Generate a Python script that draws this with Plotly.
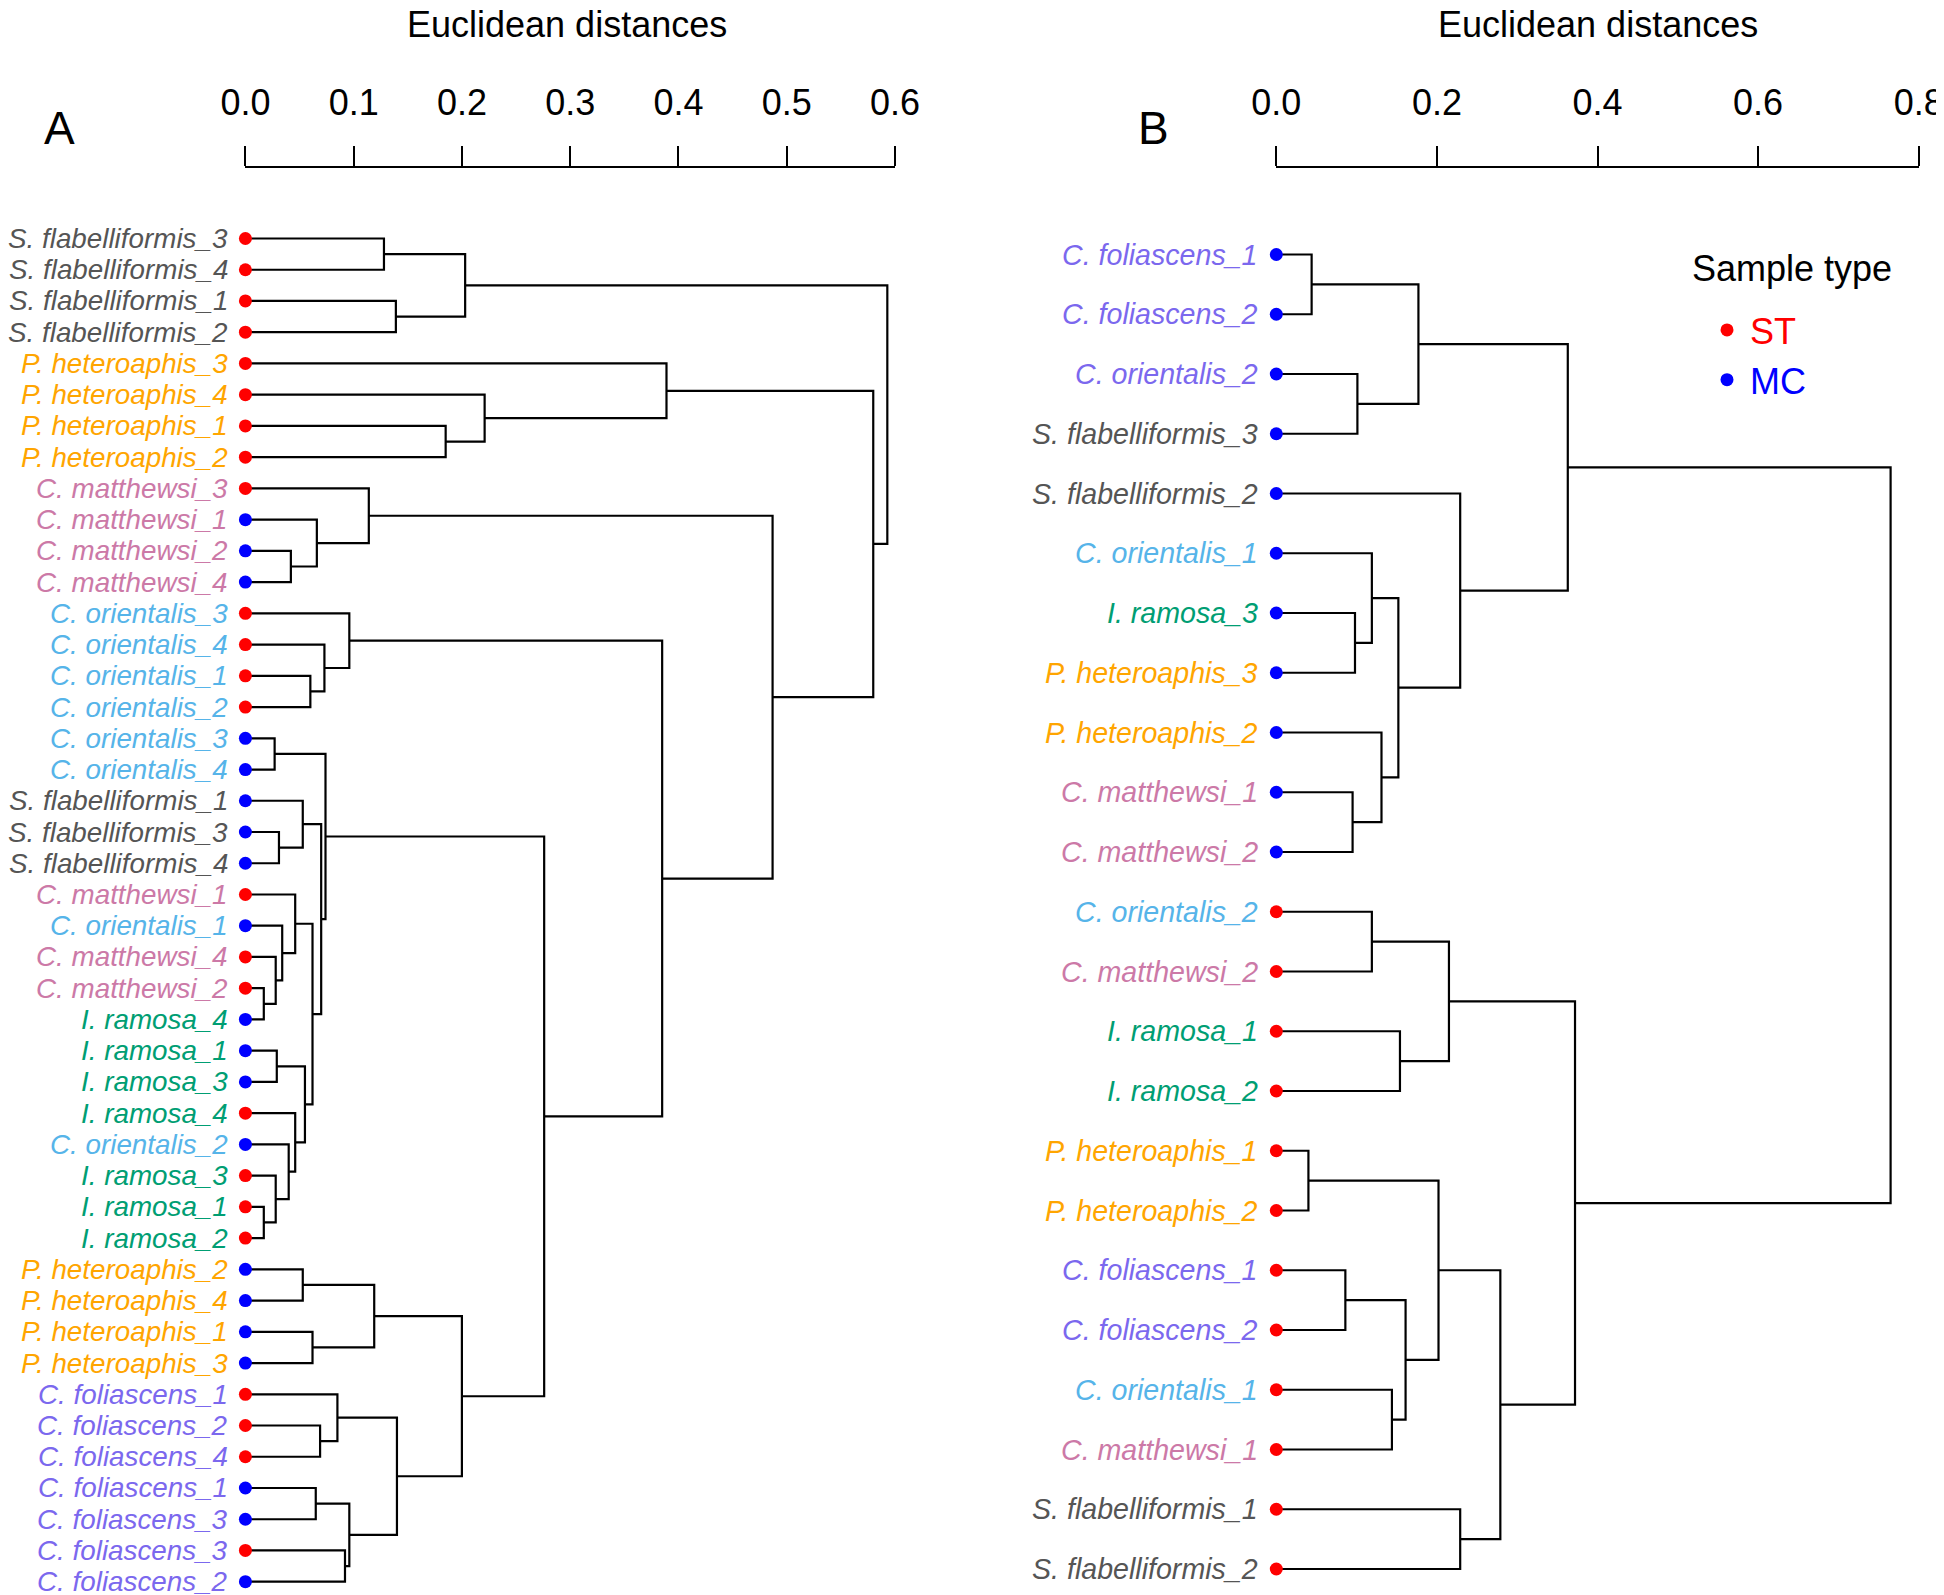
import plotly.graph_objects as go

# ======================= DATA =======================
# Panel A: leaves (top to bottom), sample types and merges (left child, right child, height)
labels_a = [
    "S. flabelliformis_3", "S. flabelliformis_4", "S. flabelliformis_1", "S. flabelliformis_2",
    "P. heteroaphis_3", "P. heteroaphis_4", "P. heteroaphis_1", "P. heteroaphis_2",
    "C. matthewsi_3", "C. matthewsi_1", "C. matthewsi_2", "C. matthewsi_4",
    "C. orientalis_3", "C. orientalis_4", "C. orientalis_1", "C. orientalis_2",
    "C. orientalis_3", "C. orientalis_4",
    "S. flabelliformis_1", "S. flabelliformis_3", "S. flabelliformis_4",
    "C. matthewsi_1", "C. orientalis_1", "C. matthewsi_4", "C. matthewsi_2", "I. ramosa_4",
    "I. ramosa_1", "I. ramosa_3", "I. ramosa_4", "C. orientalis_2",
    "I. ramosa_3", "I. ramosa_1", "I. ramosa_2",
    "P. heteroaphis_2", "P. heteroaphis_4", "P. heteroaphis_1", "P. heteroaphis_3",
    "C. foliascens_1", "C. foliascens_2", "C. foliascens_4", "C. foliascens_1",
    "C. foliascens_3", "C. foliascens_3", "C. foliascens_2",
]
types_a = [
    "ST", "ST", "ST", "ST",
    "ST", "ST", "ST", "ST",
    "ST", "MC", "MC", "MC",
    "ST", "ST", "ST", "ST",
    "MC", "MC",
    "MC", "MC", "MC",
    "ST", "MC", "ST", "ST", "MC",
    "MC", "MC", "ST", "MC",
    "ST", "ST", "ST",
    "MC", "MC", "MC", "MC",
    "ST", "ST", "ST", "MC",
    "MC", "ST", "MC",
]
# node ids: 0..43 are leaves, 44+k is the k-th merge
merges_a = [
    (0, 1, 0.128), (2, 3, 0.139), (44, 45, 0.203),
    (6, 7, 0.185), (5, 47, 0.221), (4, 48, 0.389),
    (10, 11, 0.042), (9, 50, 0.066), (8, 51, 0.114),
    (14, 15, 0.060), (13, 53, 0.073), (12, 54, 0.096),
    (16, 17, 0.027), (19, 20, 0.031), (18, 57, 0.053),
    (24, 25, 0.017), (23, 59, 0.028), (22, 60, 0.034), (21, 61, 0.046),
    (26, 27, 0.029), (31, 32, 0.017), (30, 64, 0.028), (29, 65, 0.040),
    (28, 66, 0.046), (63, 67, 0.055), (62, 68, 0.062), (58, 69, 0.070),
    (56, 70, 0.074),
    (33, 34, 0.053), (35, 36, 0.062), (72, 73, 0.119),
    (38, 39, 0.069), (37, 75, 0.085), (40, 41, 0.065), (42, 43, 0.092),
    (77, 78, 0.096), (76, 79, 0.140), (74, 80, 0.200),
    (71, 81, 0.276), (55, 82, 0.385), (52, 83, 0.487), (49, 84, 0.580),
    (46, 85, 0.593),
]
ticks_a = [0.0, 0.1, 0.2, 0.3, 0.4, 0.5, 0.6]
ticktext_a = ["0.0", "0.1", "0.2", "0.3", "0.4", "0.5", "0.6"]

# Panel B
labels_b = [
    "C. foliascens_1", "C. foliascens_2", "C. orientalis_2", "S. flabelliformis_3",
    "S. flabelliformis_2", "C. orientalis_1", "I. ramosa_3", "P. heteroaphis_3",
    "P. heteroaphis_2", "C. matthewsi_1", "C. matthewsi_2",
    "C. orientalis_2", "C. matthewsi_2", "I. ramosa_1", "I. ramosa_2",
    "P. heteroaphis_1", "P. heteroaphis_2", "C. foliascens_1", "C. foliascens_2",
    "C. orientalis_1", "C. matthewsi_1", "S. flabelliformis_1", "S. flabelliformis_2",
]
types_b = ["MC"] * 11 + ["ST"] * 12
# node ids: 0..22 are leaves, 23+k is the k-th merge
merges_b = [
    (0, 1, 0.044), (2, 3, 0.101), (23, 24, 0.177),
    (6, 7, 0.098), (5, 26, 0.119), (9, 10, 0.095), (8, 28, 0.131),
    (27, 29, 0.152), (4, 30, 0.229), (25, 31, 0.363),
    (11, 12, 0.119), (13, 14, 0.154), (33, 34, 0.215),
    (15, 16, 0.040), (17, 18, 0.086), (19, 20, 0.144), (37, 38, 0.161),
    (36, 39, 0.202), (21, 22, 0.229), (40, 41, 0.279), (35, 42, 0.372),
    (32, 43, 0.765),
]
ticks_b = [0.0, 0.2, 0.4, 0.6, 0.8]
ticktext_b = ["0.0", "0.2", "0.4", "0.6", "0.8"]

# ======================= STYLE =======================
FONT = "Liberation Sans, Arial, Helvetica, sans-serif"
species_colors = {
    "S. flabelliformis": "#555555",
    "P. heteroaphis": "#FFA500",
    "C. matthewsi": "#CC79A7",
    "C. orientalis": "#56B4E9",
    "I. ramosa": "#009E73",
    "C. foliascens": "#7B68EE",
}
label_color_override_b = {2: "C. foliascens"}  # drawn in the purple of the original
type_colors = {"ST": "#FF0000", "MC": "#0000FF"}

W, H = 1944, 1595
OFF = 8            # page offset of the figure (default body margin)
AXIS_Y = 168       # page row of the distance axis line
TOPF = AXIS_Y - OFF
PLOT_H = H - TOPF


def px_x(px):
    return (px - OFF) / W


def px_y(py):
    return 1 - (py - AXIS_Y) / PLOT_H


def y_range(first_px, last_px, n):
    sp = (last_px - first_px) / (n - 1)
    top_val = -(first_px - AXIS_Y) / sp
    bot_val = top_val + PLOT_H / sp
    return [bot_val, top_val]


def dendro_path(n, merges):
    pos = {i: (0.0, float(i)) for i in range(n)}
    xs, ys = [], []
    for k, (a, b, h) in enumerate(merges):
        xa, ya = pos[a]
        xb, yb = pos[b]
        xs += [xa, h, h, xb, None]
        ys += [ya, ya, yb, yb, None]
        pos[n + k] = (h, (ya + yb) / 2)
    return xs, ys


fig = go.Figure()

panels = [
    (labels_a, types_a, merges_a, "x", "y", {}, 27.8, -15),
    (labels_b, types_b, merges_b, "x2", "y2", label_color_override_b, 28.6, -16),
]
annotations = []
for pi, (labels, types, merges, xr, yr, override, fsize, shift) in enumerate(panels):
    n = len(labels)
    xs, ys = dendro_path(n, merges)
    fig.add_trace(go.Scatter(x=xs, y=ys, mode="lines", xaxis=xr, yaxis=yr,
                             line=dict(color="black", width=2.2),
                             hoverinfo="skip", showlegend=False))
    for t in ["ST", "MC"]:
        idx = [i for i in range(n) if types[i] == t]
        fig.add_trace(go.Scatter(
            x=[0.0] * len(idx), y=idx, mode="markers", xaxis=xr, yaxis=yr,
            marker=dict(color=type_colors[t], size=13),
            name=f"<span style='color:{type_colors[t]}'>{t}</span>",
            legendgroup=t, showlegend=(pi == 0), cliponaxis=False,
            hovertext=[labels[i] for i in idx]))
    for i, lab in enumerate(labels):
        sp = override.get(i, lab.rsplit("_", 1)[0])
        annotations.append(dict(
            x=0, y=i, xref=xr, yref=yr, text=f"<i>{lab}</i>", showarrow=False,
            xanchor="right", yanchor="middle", xshift=shift,
            font=dict(family=FONT, size=fsize, color=species_colors[sp])))

# titles, panel letters, legend title
for cx in (566.5, 1598):
    annotations.append(dict(x=px_x(cx), y=px_y(24), xref="paper", yref="paper",
                            text="Euclidean distances", showarrow=False,
                            xanchor="center", yanchor="middle",
                            font=dict(family=FONT, size=36, color="black")))
for letter, cx in (("A", 59), ("B", 1153.5)):
    annotations.append(dict(x=px_x(cx), y=px_y(128), xref="paper", yref="paper",
                            text=letter, showarrow=False,
                            xanchor="center", yanchor="middle",
                            font=dict(family=FONT, size=46, color="black")))
annotations.append(dict(x=px_x(1792), y=px_y(268), xref="paper", yref="paper",
                        text="Sample type", showarrow=False,
                        xanchor="center", yanchor="middle",
                        font=dict(family=FONT, size=36, color="black")))

axis_common = dict(side="top", showline=True, linecolor="black", linewidth=2,
                   ticks="outside", ticklen=20, tickwidth=2, tickcolor="black",
                   showgrid=False, zeroline=False, automargin=False,
                   tickfont=dict(family=FONT, size=36, color="black"),
                   ticklabelstandoff=17)

fig.update_layout(
    width=W, height=H,
    margin=dict(l=0, r=0, t=TOPF, b=0, autoexpand=False),
    paper_bgcolor="white", plot_bgcolor="white",
    font=dict(family=FONT, color="black"),
    xaxis=dict(domain=[px_x(245.4), px_x(894.9)], range=[0, 0.6], anchor="y",
               tickvals=ticks_a, ticktext=ticktext_a, **axis_common),
    yaxis=dict(domain=[0, 1], range=y_range(238.5, 1581.7, len(labels_a)),
               visible=False, anchor="x", automargin=False),
    xaxis2=dict(domain=[px_x(1276.3), px_x(1918.7)], range=[0, 0.8], anchor="y2",
                tickvals=ticks_b, ticktext=ticktext_b, **axis_common),
    yaxis2=dict(domain=[0, 1], range=y_range(254.5, 1569, len(labels_b)),
                visible=False, anchor="x2", automargin=False),
    legend=dict(
        font=dict(family=FONT, size=36),
        x=px_x(1704), y=px_y(300), xanchor="left", yanchor="top",
        bgcolor="rgba(0,0,0,0)", traceorder="normal", itemwidth=36,
        tracegroupgap=14,
    ),
    annotations=annotations,
)

fig.write_html("out.html")
